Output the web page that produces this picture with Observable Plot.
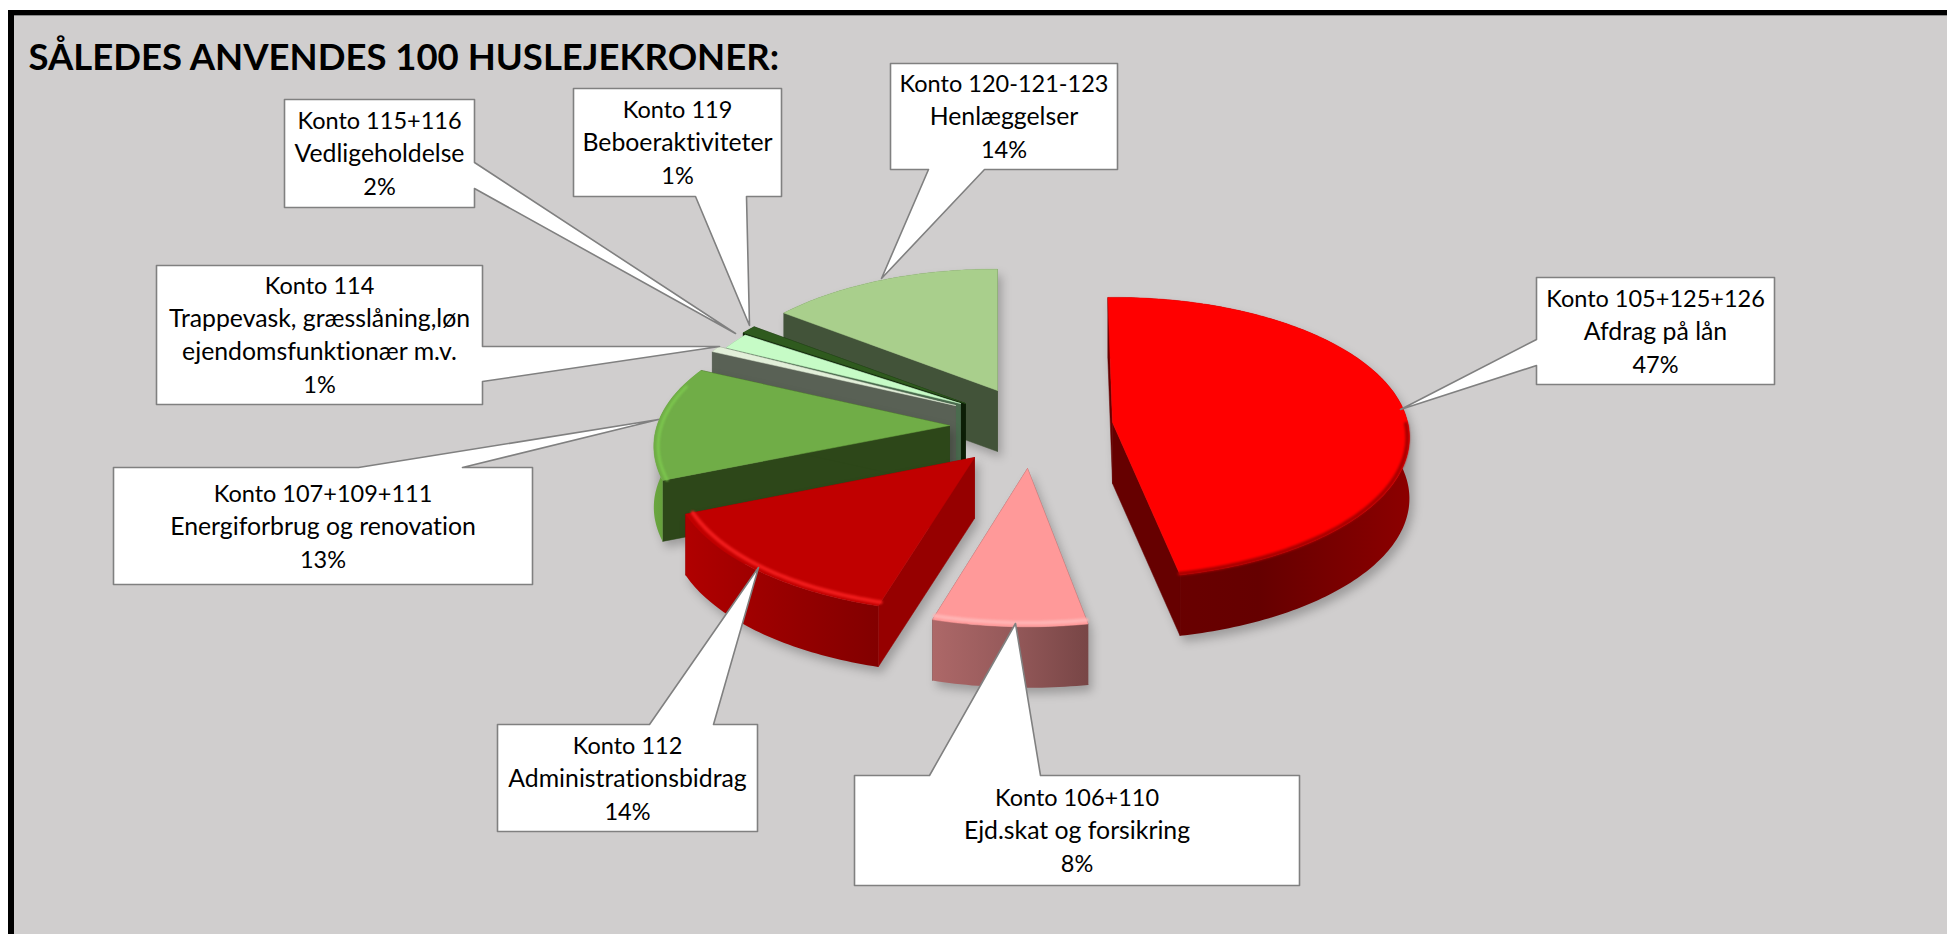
<!DOCTYPE html>
<html>
<head>
<meta charset="utf-8">
<script src="https://cdn.jsdelivr.net/npm/d3@7"></script>
<script src="https://cdn.jsdelivr.net/npm/@observablehq/plot@0.6"></script>
<style>html,body{margin:0;padding:0;background:#fff;overflow:hidden}svg{display:block}svg text{font-variant-ligatures:none}</style>
</head>
<body>
<div id="chart"></div>
<script>
// ---- data ----
const title = "SÅLEDES ANVENDES 100 HUSLEJEKRONER:";
const accounts = ["Konto 105+125+126","Konto 106+110","Konto 112","Konto 107+109+111","Konto 114","Konto 115+116","Konto 119","Konto 120-121-123"];
const descriptions = ["Afdrag på lån","Ejd.skat og forsikring","Administrationsbidrag","Energiforbrug og renovation","Trappevask, græsslåning,løn\nejendomsfunktionær m.v.","Vedligeholdelse","Beboeraktiviteter","Henlæggelser"];
const values = [47,8,14,13,1,2,1,14];

// ---- layout of the exploded perspective pie ----
const W = 1947, H = 934;
const RX = 295, RY = 139, PERSP = 0.1, DEPTH = 61, START = -2;
const apexes = [[1112,422],[1027,468],[974,457],[949,425],[955,405],[960,403],[965,403],[997,390]];
const radii  = [[0.99,1.01],[1.025,1.025],[1.01,1.02],[1.01,0.97],[0.95,0.95],[0.93,0.93],[0.96,0.96],[0.97,0.96]];
// small angular corrections (degrees): the percentages are rounded, the drawn slices are not
const nudges = [[1,1],[2.4,0.5],[1,1],[1.5,2],[2,1],[0,0],[0,0],[0,2]];
const topFill  = ["#ff0000","#ff9999","#c00000","#70ad47","#e2efd9","#c6fbc6","#2f5a1e","#a9cf8c"];
const wallFill = ["#660000","#7a4848","#960000","#2d4719","#596155","#4a6b4e","#0c1e06","#425339"];
const outerGrad = [["#6c0000","#650000","#8c0000"],["#ad6868","#95595a","#784646"],["#b00000","#980000","#820000"],["#6aa63f","#5f9638","#5f9638"],["#596155","#596155","#596155"],["#4a6b4e","#4a6b4e","#4a6b4e"],["#0c1e06","#0c1e06","#0c1e06"],["#425339","#425339","#425339"]];
const rimFill = ["#a80000","#ffb4b4","#f01c1c","#7cc64e"];
const rimInset = [0.993,0.975,0.975,0.985];
const rimWidth = [4,4,4,3];
const rimUntil = [0,-0.1,-1,-0.3];   // the bevel only runs where the curved wall shows

// boxes [x1,y1,x2,y2], side of the pointer, pointer base, pointer tip
const boxes = [[1536,277,1774,384],[854,775,1299,885],[497,724,757,831],[113,467,532,584],[156,265,482,404],[284,99,474,207],[573,88,781,196],[890,63,1117,169]];
const sides = ["left","top","top","top","right","right","bottom","bottom"];
const bases = [[339,365],[929,1040],[649,713],[358,462],[346,381],[162,188],[695,746],[928,984]];
const tips  = [[1400,409],[1015,623],[758,567],[658,419],[719,346],[735,333],[749,325],[881,278]];

// ---- geometry derived from the values ----
const total = d3.sum(values);
const cumulative = Array.from(d3.cumsum(values));
const pie = cumulative.map((c, i) => ({i, a0: START + (c - values[i]) / total * 360 + nudges[i][0], a1: START + c / total * 360 + nudges[i][1]}));
function rimPoint(i, deg, r) {
  const [ax, ay] = apexes[i];
  const a = deg * Math.PI / 180, u = Math.sin(a), v = -Math.cos(a), w = 1 - PERSP * v;
  return [ax + r * RX * u / w, ay + r * RY * v / w, v];
}
function arc(s, inset = 1) {
  const n = Math.max(2, Math.ceil(s.a1 - s.a0)), out = [];
  const [r0, r1] = radii[s.i];
  for (let k = 0; k <= n; k++) {
    const f = k / n;
    out.push(rimPoint(s.i, s.a0 + (s.a1 - s.a0) * f, (r0 + (r1 - r0) * f) * inset));
  }
  return out;
}
const down = ps => ps.map(([x, y]) => [x, y + DEPTH]);
const shape = (ps, opts) => Plot.line(ps, {x: d => d[0], y: d => d[1], curve: "linear", ...opts});
const closed = ps => [...ps, ps[0]];

const marks = [];
// panel and frame
marks.push(Plot.rect([0], {x1: () => 14, x2: () => W, y1: () => 15, y2: () => H, fill: "#d0cece"}));
marks.push(Plot.rect([0], {x1: () => 8, x2: () => W, y1: () => 10, y2: () => 15, fill: "#000"}));
marks.push(Plot.rect([0], {x1: () => 8, x2: () => 14, y1: () => 10, y2: () => H, fill: "#000"}));
marks.push(Plot.rect([0], {x1: () => 14, x2: () => W, y1: () => 15, y2: () => 16, fill: "#8a8a8a"}));

// slices back to front
[7,6,5,4,3,2,1,0].forEach(i => {
  const s = pie[i], apex = apexes[i], rim = arc(s), rimLow = down(rim), apexLow = [apex[0], apex[1] + DEPTH];
  const hull = d3.polygonHull([apex, apexLow, ...rim, ...rimLow].map(p => [p[0], p[1]]));
  if (i < 4 || i === 7) marks.push(shape(closed(hull), {fill: "#000", fillOpacity: 0.24, stroke: "none", dx: 4, dy: 6, imageFilter: "blur(5px)"}));
  // two radial walls
  [rim[0], rim[rim.length - 1]].forEach(p => {
    marks.push(shape(closed([apex, p, [p[0], p[1] + DEPTH], apexLow]), {fill: wallFill[i], stroke: wallFill[i], strokeWidth: 0.5}));
  });
  // curved outer wall
  marks.push(shape(closed([...rim, ...rimLow.slice().reverse()]), {fill: `url(#outer${i})`, stroke: "none"}));
  // top face
  const top = closed([apex, ...rim]);
  marks.push(shape(top, {fill: topFill[i], stroke: topFill[i], strokeWidth: 0.5}));
  // bevel along the rim
  if (i < 4) {
    marks.push(shape(arc(s, rimInset[i]).filter(p => p[2] > rimUntil[i]), {stroke: rimFill[i], strokeWidth: rimWidth[i], imageFilter: "blur(1.2px)"}));
  }
});

// callouts
const callout = i => {
  const [x1, y1, x2, y2] = boxes[i], [b0, b1] = bases[i], tip = tips[i];
  const pts = [[x1, y1]];
  if (sides[i] === "top") pts.push([b0, y1], tip, [b1, y1]);
  pts.push([x2, y1]);
  if (sides[i] === "right") pts.push([x2, b0], tip, [x2, b1]);
  pts.push([x2, y2]);
  if (sides[i] === "bottom") pts.push([b1, y2], tip, [b0, y2]);
  pts.push([x1, y2]);
  if (sides[i] === "left") pts.push([x1, b1], tip, [x1, b0]);
  return closed(pts);
};
d3.range(boxes.length).forEach(i => marks.push(shape(callout(i), {fill: "#fff", stroke: "#808080", strokeWidth: 1.6})));

const FONT = "Lato", LINE = 33;
const labelLines = accounts.flatMap((a, i) => {
  const desc = descriptions[i].split("\n");
  const lines = [{text: a, size: 23.5}, ...desc.map(text => ({text, size: 24.8})), {text: `${values[i]}%`, size: 23.5}];
  const cx = (boxes[i][0] + boxes[i][2]) / 2, cy = (boxes[i][1] + boxes[i][3]) / 2 + 1;
  return lines.map((l, k) => ({...l, x: cx, y: cy + (k - (lines.length - 1) / 2) * LINE}));
});
marks.push(Plot.text(labelLines, {x: "x", y: "y", text: "text", fontFamily: FONT, fontSize: d => d.size, fill: "#000", textAnchor: "middle", lineAnchor: "middle"}));
marks.push(Plot.text([title], {x: () => 28, y: () => 58, text: d => d, fontFamily: FONT, fontWeight: 700, fontSize: 36.5, fill: "#000", textAnchor: "start", lineAnchor: "middle"}));

const plot = Plot.plot({
  width: W, height: H, margin: 0,
  style: {background: "#fff"},
  x: {domain: [0, W], range: [0, W], axis: null},
  y: {domain: [0, H], range: [0, H], axis: null},
  marks
});
const NS = "http://www.w3.org/2000/svg";
const defs = document.createElementNS(NS, "defs");
outerGrad.forEach((stops, i) => {
  const g = document.createElementNS(NS, "linearGradient");
  g.setAttribute("id", `outer${i}`);
  stops.forEach((c, k) => {
    const st = document.createElementNS(NS, "stop");
    st.setAttribute("offset", k / (stops.length - 1));
    st.setAttribute("stop-color", c);
    g.appendChild(st);
  });
  defs.appendChild(g);
});
plot.insertBefore(defs, plot.firstChild);
document.getElementById("chart").appendChild(plot);
</script>
</body>
</html>
